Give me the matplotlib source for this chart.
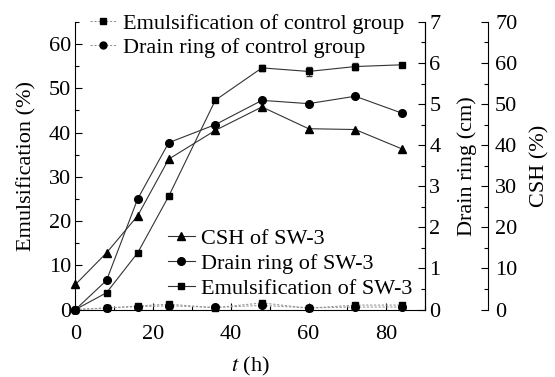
import matplotlib
matplotlib.use("Agg")
import matplotlib.pyplot as plt
from matplotlib.ticker import MultipleLocator
from matplotlib.lines import Line2D

plt.rcParams['font.family'] = ['Liberation Serif', 'DejaVu Serif']
plt.rcParams['mathtext.fontset'] = 'stix'

# time (h)
t = [0, 8, 16, 24, 36, 48, 60, 72, 84]

# SW-3
emul_sw3 = [0, 3.8, 12.8, 25.6, 47.3, 54.6, 53.8, 54.9, 55.3]
emul_sw3_err = [0, 0, 0, 0, 0, 0.6, 1.0, 0.8, 0]
drain_sw3 = [0, 0.71, 2.69, 4.06, 4.5, 5.09, 5.01, 5.19, 4.78]
csh_sw3 = [6.1, 13.8, 22.8, 36.6, 43.6, 49.3, 44.0, 43.8, 39.1]

# control group
emul_ctrl = [0, 0.3, 0.8, 1.2, 0.4, 1.5, 0.3, 1.0, 1.0]
drain_ctrl = [0, 0.04, 0.07, 0.09, 0.05, 0.1, 0.04, 0.06, 0.06]

fs = 16
line_col = '#333333'
ctrl_col = '#999999'
ms = 5.5

fig = plt.figure(figsize=(5.55, 3.77), dpi=100)
ax = fig.add_axes([0.136, 0.179, 0.630, 0.763])
ax2 = ax.twinx()
ax3 = ax.twinx()
ax3.spines['right'].set_position(('axes', 1.18))

# emulsification (left axis)
ax.errorbar(t, emul_sw3, yerr=emul_sw3_err, color=line_col, lw=0.8, marker='s',
            ms=ms - 0.5, mfc='black', mec='black', capsize=2, elinewidth=0.8, clip_on=False)
ax.plot(t, emul_ctrl, color=ctrl_col, lw=0.8, ls=(0, (2, 1.5)), marker='s',
        ms=ms - 0.5, mfc='black', mec='black', clip_on=False)

# drain ring
ax2.plot(t, drain_sw3, color=line_col, lw=0.8, marker='o', ms=ms,
         mfc='black', mec='black', clip_on=False)
ax2.plot(t, drain_ctrl, color=ctrl_col, lw=0.8, ls=(0, (2, 1.5)), marker='o',
         ms=ms, mfc='black', mec='black', clip_on=False)

# CSH
ax3.plot(t, csh_sw3, color=line_col, lw=0.8, marker='^', ms=ms,
         mfc='black', mec='black', clip_on=False)

ax.set_xlim(0, 90)
ax.set_ylim(0, 65)
ax2.set_ylim(0, 7)
ax3.set_ylim(0, 70)

ax.xaxis.set_major_locator(MultipleLocator(20))
ax.xaxis.set_minor_locator(MultipleLocator(10))
ax.yaxis.set_major_locator(MultipleLocator(10))
ax.yaxis.set_minor_locator(MultipleLocator(5))
ax2.yaxis.set_major_locator(MultipleLocator(1))
ax2.yaxis.set_minor_locator(MultipleLocator(0.5))
ax3.yaxis.set_major_locator(MultipleLocator(10))
ax3.yaxis.set_minor_locator(MultipleLocator(5))

for a in (ax, ax2, ax3):
    a.tick_params(which='major', direction='in', length=5, width=0.8, labelsize=fs, pad=3)
    a.tick_params(which='minor', direction='in', length=3, width=0.8)
    a.spines['top'].set_visible(False)
    for s in a.spines.values():
        s.set_linewidth(0.8)
ax3.spines['left'].set_visible(False)
ax3.spines['bottom'].set_visible(False)
ax2.spines['left'].set_visible(False)
ax2.spines['bottom'].set_visible(False)
ax.tick_params(axis='x', pad=11)
ax3.tick_params(axis='y', pad=5)

ax.set_xlabel(r'$t$ (h)', fontsize=fs, labelpad=8)
ax.set_ylabel('Emulsification (%)', fontsize=fs, labelpad=9)
ax2.set_ylabel('Drain ring (cm)', fontsize=fs, labelpad=12)
ax3.set_ylabel('CSH (%)', fontsize=fs, labelpad=9)

# legends
h_ctrl = [
    Line2D([], [], color=ctrl_col, lw=0.8, ls=(0, (2, 1.5)), marker='s', ms=ms - 1, mfc='black', mec='black'),
    Line2D([], [], color=ctrl_col, lw=0.8, ls=(0, (2, 1.5)), marker='o', ms=ms - 0.5, mfc='black', mec='black'),
]
leg1 = ax3.legend(h_ctrl, ['Emulsification of control group', 'Drain ring of control group'],
                  loc='upper left', bbox_to_anchor=(0.015, 1.06), frameon=False,
                  fontsize=fs, handlelength=1.2, handletextpad=0.3, labelspacing=0.15,
                  borderaxespad=0)
ax3.add_artist(leg1)

h_sw3 = [
    Line2D([], [], color=line_col, lw=0.8, marker='^', ms=ms, mfc='black', mec='black'),
    Line2D([], [], color=line_col, lw=0.8, marker='o', ms=ms, mfc='black', mec='black'),
    Line2D([], [], color=line_col, lw=0.8, marker='s', ms=ms - 0.5, mfc='black', mec='black'),
]
ax3.legend(h_sw3, ['CSH of SW-3', 'Drain ring of SW-3', 'Emulsification of SW-3'],
           loc='lower right', bbox_to_anchor=(0.99, 0.005), frameon=False,
           fontsize=fs, handlelength=1.2, handletextpad=0.3, labelspacing=0.2,
           borderaxespad=0)

fig.savefig('out.png', dpi=100)
